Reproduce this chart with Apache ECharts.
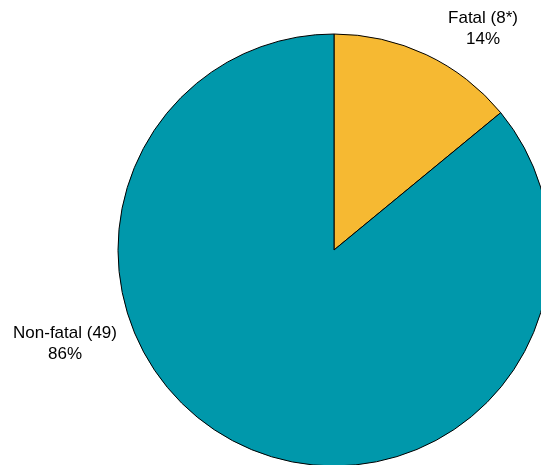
<!DOCTYPE html>
<html><head><meta charset="utf-8">
<script src="https://cdn.jsdelivr.net/npm/echarts@6/dist/echarts.min.js"></script>
<style>html,body{margin:0;padding:0;background:#fff;}#c{width:541px;height:465px;}</style>
</head><body><div id="c"></div>
<script>
var categories = ['Fatal (8*)', 'Non-fatal (49)'];
var values = [8, 49];
var percentLabels = ['14%', '86%'];
var colors = ['#F6B932', '#0098AB'];
var labelPos = [[483, 29], [65, 344]];

var chart = echarts.init(document.getElementById('c'));
chart.setOption({
  animation: false,
  series: [{
    type: 'pie',
    center: [334, 250],
    radius: 216,
    startAngle: 90,
    clockwise: true,
    data: categories.map(function (c, i) {
      return { name: c, value: values[i], itemStyle: { color: colors[i] } };
    }),
    itemStyle: { borderColor: '#000', borderWidth: 1 },
    label: {
      show: true,
      position: 'outside',
      overflow: 'none',
      width: 200,
      formatter: function (p) { return p.name + '\n' + percentLabels[p.dataIndex]; },
      fontFamily: 'Liberation Sans, Arial, sans-serif',
      fontSize: 17,
      lineHeight: 21,
      color: '#000',
      align: 'center'
    },
    labelLine: { show: false },
    labelLayout: function (p) {
      return { x: labelPos[p.dataIndex][0], y: labelPos[p.dataIndex][1], align: 'center', verticalAlign: 'middle' };
    },
    emphasis: { disabled: true }
  }]
});
</script></body></html>
